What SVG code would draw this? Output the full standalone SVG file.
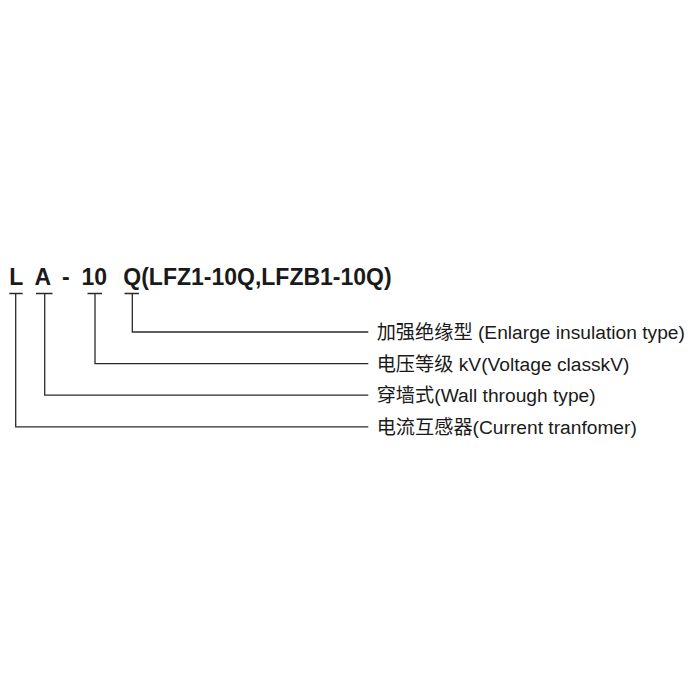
<svg xmlns="http://www.w3.org/2000/svg" width="697" height="697" viewBox="0 0 697 697">
<style>
.t{font-family:"Liberation Sans","Noto Sans CJK SC",sans-serif;fill:#1a1a1a}
.title{font-size:23px;font-weight:bold}
.lab{font-size:19.2px}
.c{fill:none;stroke:#2a2a2a;stroke-width:1.3}
</style>
<rect width="697" height="697" fill="#fff"/>
<g id="title">
<text class="t title" x="9.3" y="285">L</text>
<text class="t title" x="34.5" y="285">A</text>
<text class="t title" x="62" y="285">-</text>
<text class="t title" x="81.5" y="285">10</text>
<text class="t title" x="123.3" y="285">Q(LFZ1-10Q,LFZB1-10Q)</text>
</g>
<g id="connectors">
<path class="c" d="M9.3 293.5H22.7M15.7 293.5V426.8H368.3"/>
<path class="c" d="M36 293.5H52.5M44.7 293.5V395.2H368.3"/>
<path class="c" d="M87.5 293.5H102M95 293.5V363.6H368.3"/>
<path class="c" d="M124.5 293.5H139M132.3 293.5V332H368.3"/>
</g>
<g id="label-q"><text class="t lab" x="376.7" y="339">加强绝缘型 (Enlarge insulation type)</text></g>
<g id="label-10"><text class="t lab" x="376.7" y="370.6">电压等级 kV(Voltage classkV)</text></g>
<g id="label-a"><text class="t lab" x="376.7" y="402.2">穿墙式(Wall through type)</text></g>
<g id="label-l"><text class="t lab" x="376.7" y="433.8">电流互感器(Current tranfomer)</text></g>
</svg>
